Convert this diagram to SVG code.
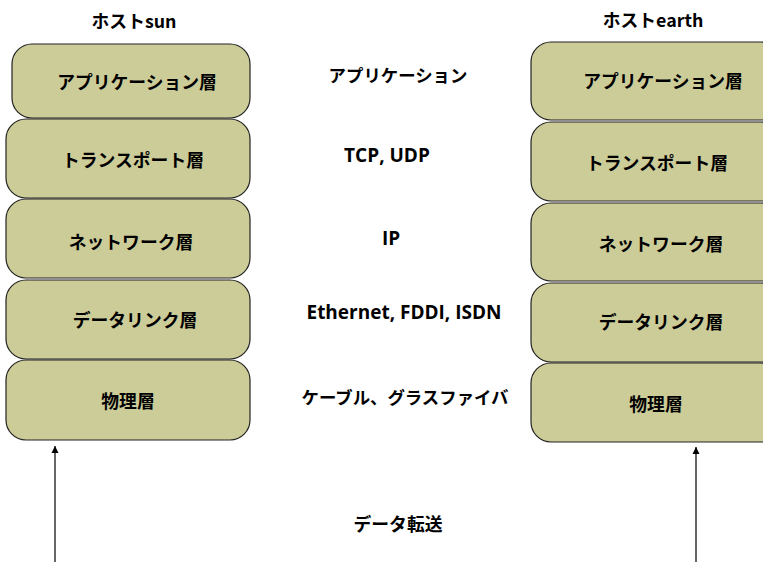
<svg xmlns="http://www.w3.org/2000/svg" width="763" height="562" viewBox="0 0 763 562">
<style>
.box{fill:#cccc99;stroke:#222;stroke-width:1.2}
.t{font-family:"Noto Sans CJK JP",sans-serif;font-weight:bold;font-size:17.8px;fill:#000;text-anchor:middle;dominant-baseline:central}
.m{font-family:"Noto Sans CJK JP",sans-serif;font-weight:bold;font-size:17.4px;fill:#000;text-anchor:middle;dominant-baseline:central}
.l{font-family:"Open Sans","Noto Sans CJK JP",sans-serif;font-weight:bold;font-size:19px;fill:#000;text-anchor:middle;dominant-baseline:central}
.c{stroke:#000;stroke-width:1.2;fill:none}
</style>
<defs>
<marker id="ah" markerWidth="8" markerHeight="8" refX="7" refY="4" orient="auto" markerUnits="userSpaceOnUse">
<path d="M0,0.5 L7,4 L0,7.5 Z" fill="#000"/>
</marker>
</defs>
<rect width="763" height="562" fill="#fff"/>
<text class="t" x="134" y="20">ホストsun</text>
<text class="t" x="653" y="19">ホストearth</text>
<g id="sun-app"><rect class="box" x="12" y="44" width="238" height="74" rx="20"/><text class="t" x="137" y="81">アプリケーション層</text></g>
<g id="sun-trans"><rect class="box" x="6" y="119" width="244" height="79" rx="20"/><text class="t" x="133" y="159">トランスポート層</text></g>
<g id="sun-net"><rect class="box" x="6" y="199" width="244" height="79" rx="20"/><text class="t" x="131" y="241">ネットワーク層</text></g>
<g id="sun-data"><rect class="box" x="6" y="280" width="244" height="79" rx="20"/><text class="t" x="135" y="319">データリンク層</text></g>
<g id="sun-phy"><rect class="box" x="6" y="360" width="244" height="80" rx="20"/><text class="t" x="128" y="400">物理層</text></g>
<g id="earth-app"><rect class="box" x="531" y="42" width="250" height="78" rx="20"/><text class="t" x="663" y="80">アプリケーション層</text></g>
<g id="earth-trans"><rect class="box" x="531" y="122" width="250" height="79" rx="20"/><text class="t" x="657" y="162">トランスポート層</text></g>
<g id="earth-net"><rect class="box" x="531" y="203" width="250" height="78" rx="20"/><text class="t" x="661" y="243">ネットワーク層</text></g>
<g id="earth-data"><rect class="box" x="531" y="283" width="250" height="79" rx="20"/><text class="t" x="661" y="321">データリンク層</text></g>
<g id="earth-phy"><rect class="box" x="531" y="363" width="250" height="79" rx="20"/><text class="t" x="656" y="403">物理層</text></g>
<g id="labels">
<text class="m" x="398" y="74">アプリケーション</text>
<text class="l" x="387" y="155">TCP, UDP</text>
<text class="l" x="391" y="238">IP</text>
<text class="l" x="404" y="312">Ethernet, FDDI, ISDN</text>
<text class="m" x="405" y="396">ケーブル、グラスファイバ</text>
<text class="t" x="398" y="523">データ転送</text>
</g>
<g id="connectors">
<line class="c" x1="55" y1="562" x2="55" y2="446" marker-end="url(#ah)"/>
<line class="c" x1="696" y1="562" x2="696" y2="447" marker-end="url(#ah)"/>
</g>
</svg>
